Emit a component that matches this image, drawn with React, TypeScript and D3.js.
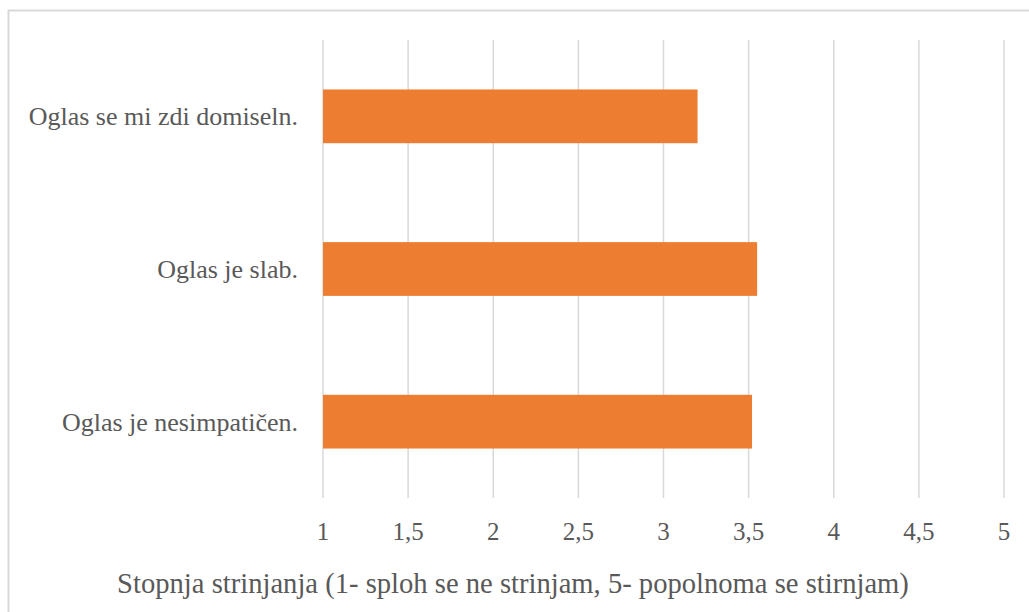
import React from "react";
import * as d3 from "d3";

// Agreement ratings per statement (scale 1–5)
const categories: string[] = [
  "Oglas se mi zdi domiseln.",
  "Oglas je slab.",
  "Oglas je nesimpatičen.",
];
const values: number[] = [3.2, 3.55, 3.52];
const ticks: number[] = [1, 1.5, 2, 2.5, 3, 3.5, 4, 4.5, 5];
const axisTitle = "Stopnja strinjanja (1- sploh se ne strinjam, 5- popolnoma se stirnjam)";

const W = 1029;
const H = 612;
const FONT = "'Liberation Serif', 'Times New Roman', serif";
const TEXT = "#595959";
const GRID = "#D9D9D9";
const BAR = "#ED7D31";

export default function App() {
  const x = d3.scaleLinear().domain([1, 5]).range([323, 1004]);
  const y = d3
    .scaleBand<string>()
    .domain(categories)
    .range([40, 498])
    .paddingInner(0.648)
    .paddingOuter(0.324);
  const fmt = (v: number) => String(v).replace(".", ",");

  return (
    <svg
      width={W}
      height={H}
      style={{ position: "absolute", left: 0, top: 0, background: "#fff" }}
    >
      <rect x={0} y={0} width={W} height={H} fill="#fff" />
      {/* chart area frame (right and bottom edges run past the view) */}
      <rect x={8.5} y={10.5} width={W + 10} height={H + 10} fill="none" stroke={GRID} strokeWidth={2} />

      {ticks.map((t) => (
        <line
          key={"g" + t}
          x1={x(t)}
          x2={x(t)}
          y1={40}
          y2={498}
          stroke={GRID}
          strokeWidth={1.5}
        />
      ))}

      {categories.map((c, i) => (
        <rect
          key={c}
          x={x(1)}
          y={y(c)}
          width={x(values[i]) - x(1)}
          height={y.bandwidth()}
          fill={BAR}
        />
      ))}

      {categories.map((c) => (
        <text
          key={"l" + c}
          x={298}
          y={(y(c) as number) + y.bandwidth() / 2}
          dy="0.35em"
          textAnchor="end"
          fontFamily={FONT}
          fontSize={26}
          fill={TEXT}
        >
          {c}
        </text>
      ))}

      {ticks.map((t) => (
        <text
          key={"t" + t}
          x={x(t)}
          y={531}
          dy="0.35em"
          textAnchor="middle"
          fontFamily={FONT}
          fontSize={25}
          fill={TEXT}
        >
          {fmt(t)}
        </text>
      ))}

      <text
        x={513}
        y={583}
        dy="0.35em"
        textAnchor="middle"
        fontFamily={FONT}
        fontSize={28.6}
        fill={TEXT}
      >
        {axisTitle}
      </text>
    </svg>
  );
}
